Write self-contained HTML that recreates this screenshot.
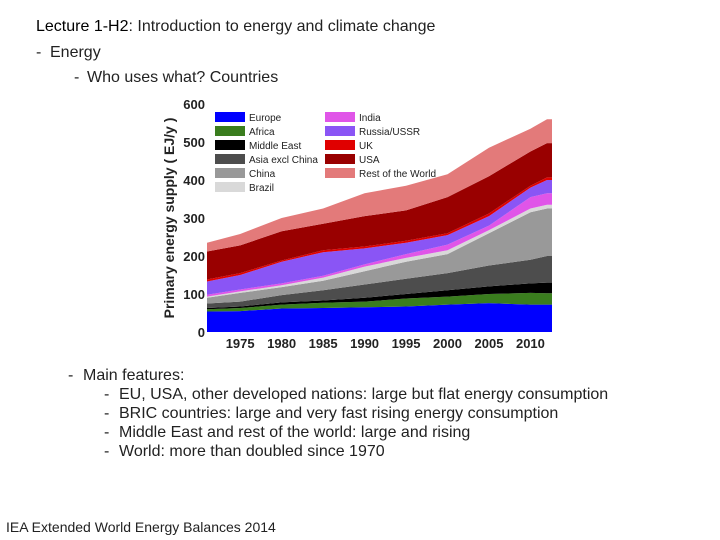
<!DOCTYPE html>
<html><head><meta charset="utf-8"><style>
body{margin:0;width:720px;height:540px;background:#fff;font-family:"Liberation Sans",sans-serif;position:relative;overflow:hidden;color:#222}
.t{position:absolute;white-space:nowrap;font-size:16px}
.d{position:absolute}
</style></head><body>
<div class="t" style="left:36px;top:18px"><span style="color:#000">Lecture 1-H2</span>: Introduction to energy and climate change</div>
<div class="t" style="left:36px;top:44px">-</div><div class="t" style="left:50px;top:44px">Energy</div>
<div class="t" style="left:74px;top:69px">-</div><div class="t" style="left:87px;top:69px">Who uses what? Countries</div>
<div class="t" style="left:68px;top:367px">-</div><div class="t" style="left:83px;top:367px">Main features:</div>
<div class="t" style="left:104px;top:386px">-</div><div class="t" style="left:119px;top:386px">EU, USA, other developed nations: large but flat energy consumption</div>
<div class="t" style="left:104px;top:405px">-</div><div class="t" style="left:119px;top:405px">BRIC countries: large and very fast rising energy consumption</div>
<div class="t" style="left:104px;top:424px">-</div><div class="t" style="left:119px;top:424px">Middle East and rest of the world: large and rising</div>
<div class="t" style="left:104px;top:443px">-</div><div class="t" style="left:119px;top:443px">World: more than doubled since 1970</div>
<div class="t" style="left:6px;top:519px;font-size:14px">IEA Extended World Energy Balances 2014</div>
<svg id="chart" width="720" height="540" style="position:absolute;left:0;top:0"></svg>
<script>
const years=[1971,1975,1980,1985,1990,1995,2000,2005,2010,2012];
const names=["Europe","Africa","Middle East","Asia excl China","China","Brazil","India","Russia/USSR","UK","USA","Rest of the World"];
const colors=["#0000ff","#3a7d1e","#000000","#4d4d4d","#999999","#d9d9d9","#e055e8","#8a55f5","#e00000","#990000","#e37a7a"];
const europe=[54,55,62,63,65,67,72,76,72,72];
const africa=[6,8,10,14,15,21,21,24,31,30];
const middleEast=[3,4,6,6,10,12,17,20,25,28];
const asia=[12,13,19,27,35,40,45,55,62,70];
const china=[15,23,21,25,35,45,50,85,125,125];
const brazil=[3,4,5,8,12,10,10,8,10,10];
const india=[5,5,5,5,6,10,15,12,30,30];
const russia=[35,38,57,62,42,30,25,25,25,35];
const uk=[5,5,3,5,5,5,5,7,5,7];
const usa=[74,73,77,70,80,80,95,98,90,90];
const row=[23,30,35,40,60,65,60,75,60,63];
const series=[europe,africa,middleEast,asia,china,brazil,india,russia,uk,usa,row];
const yTicks=[0,100,200,300,400,500,600];
const xTicks=[1975,1980,1985,1990,1995,2000,2005,2010];
const NS="http://www.w3.org/2000/svg",svg=document.getElementById("chart");
const X0=207,X1=552,Y0=332,Y1=104;
const x=v=>X0+(v-1971)/(2012.6-1971)*(X1-X0);
const y=v=>Y0-v/600*(Y0-Y1);
function mk(t,a){const e=document.createElementNS(NS,t);for(const k in a)e.setAttribute(k,a[k]);svg.appendChild(e);return e;}
let base=years.map(()=>0);
series.forEach((s,i)=>{
  const top=base.map((b,j)=>b+s[j]);
  let d="M"+years.map((yr,j)=>x(yr)+","+y(top[j])).join("L");
  d+="L"+(X1)+","+y(top[top.length-1])+"L"+X1+","+y(base[base.length-1]);
  for(let j=years.length-1;j>=0;j--)d+="L"+x(years[j])+","+y(base[j]);
  const p=mk("path",{d:d+"Z",fill:colors[i]});
  
  
  base=top;
});
yTicks.forEach(v=>{const t=mk("text",{x:205,y:y(v)+5,"text-anchor":"end","font-size":13,"font-weight":"bold",fill:"#222","font-family":"Liberation Sans"});t.textContent=v;

});
xTicks.forEach(v=>{const t=mk("text",{x:x(v),y:348,"text-anchor":"middle","font-size":13,"font-weight":"bold",fill:"#222","font-family":"Liberation Sans"});t.textContent=v;

});
const at=mk("text",{x:0,y:0,transform:"translate(174,218) rotate(-90)","text-anchor":"middle","font-size":14,"font-weight":"bold",fill:"#222","font-family":"Liberation Sans"});
at.textContent="Primary energy supply ( EJ/y )";


names.forEach((n,i)=>{
  const col=i<6?0:1,r=i<6?i:i-6;
  const lx=col?325:215,ly=112+r*14;
  const g=mk("g",{});
  
  
  const rc=document.createElementNS(NS,"rect");rc.setAttribute("x",lx);rc.setAttribute("y",ly);rc.setAttribute("width",30);rc.setAttribute("height",10);rc.setAttribute("fill",colors[i]);g.appendChild(rc);
  const tx=document.createElementNS(NS,"text");tx.setAttribute("x",lx+34);tx.setAttribute("y",ly+9);tx.setAttribute("font-size",10);tx.setAttribute("fill","#222");tx.setAttribute("font-family","Liberation Sans");tx.textContent=n;g.appendChild(tx);
});
</script>
</body></html>
